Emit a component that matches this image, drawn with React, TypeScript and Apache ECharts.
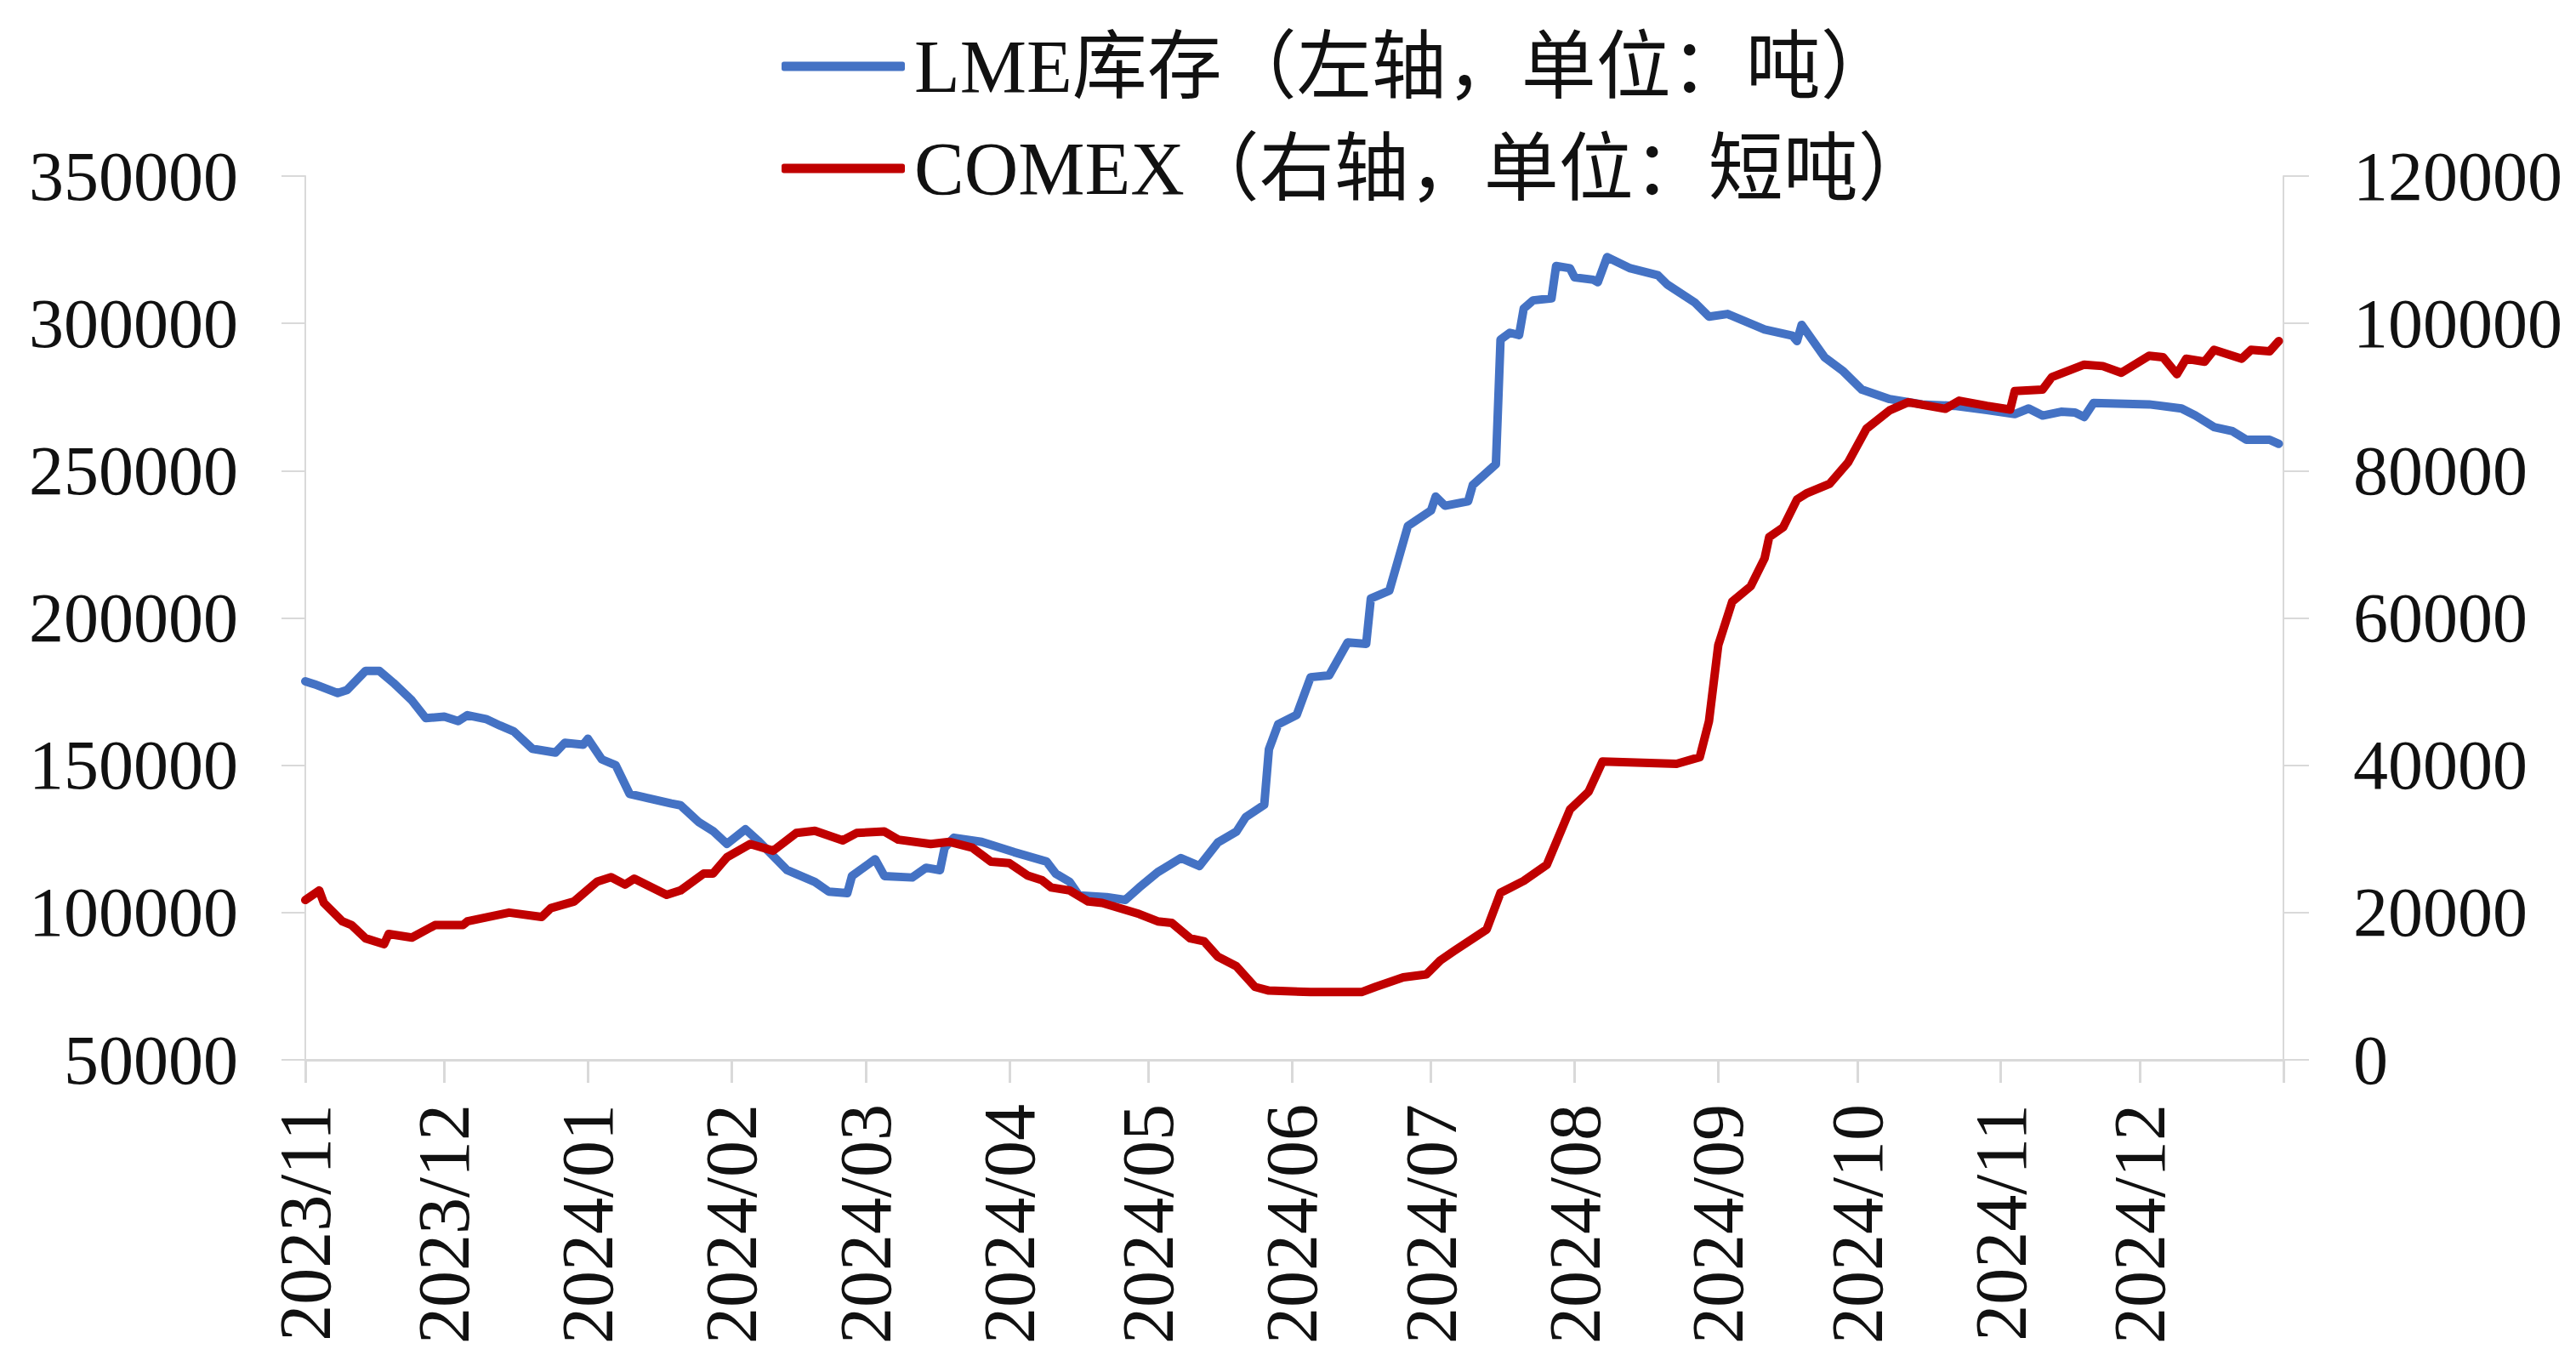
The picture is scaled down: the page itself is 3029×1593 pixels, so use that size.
import React, { useEffect, useRef } from "react";
import * as echarts from "echarts";

const legendNames = ["LME库存（左轴，单位：吨）", "COMEX（右轴，单位：短吨）"];

const monthTickLabels = [
  "2023/11", "2023/12", "2024/01", "2024/02", "2024/03", "2024/04", "2024/05",
  "2024/06", "2024/07", "2024/08", "2024/09", "2024/10", "2024/11", "2024/12",
];

const leftAxisRange = [50000, 350000, 50000];
const rightAxisRange = [0, 120000, 20000];

const lmeDates = [
  "2023-11-01", "2023-11-03", "2023-11-08", "2023-11-10", "2023-11-14", "2023-11-17", "2023-11-20",
  "2023-11-24", "2023-11-27", "2023-12-01", "2023-12-04", "2023-12-06", "2023-12-10", "2023-12-13",
  "2023-12-16", "2023-12-20", "2023-12-25", "2023-12-27", "2023-12-31", "2024-01-01", "2024-01-04",
  "2024-01-07", "2024-01-10", "2024-01-13", "2024-01-19", "2024-01-21", "2024-01-25", "2024-01-28",
  "2024-01-31", "2024-02-04", "2024-02-07", "2024-02-13", "2024-02-19", "2024-02-22", "2024-02-26",
  "2024-02-27", "2024-03-03", "2024-03-05", "2024-03-11", "2024-03-14", "2024-03-17", "2024-03-18",
  "2024-03-20", "2024-03-26", "2024-04-02", "2024-04-09", "2024-04-11", "2024-04-14", "2024-04-16",
  "2024-04-22", "2024-04-26", "2024-04-29", "2024-05-03", "2024-05-08", "2024-05-12", "2024-05-16",
  "2024-05-20", "2024-05-22", "2024-05-26", "2024-05-27", "2024-05-29", "2024-06-02", "2024-06-05",
  "2024-06-09", "2024-06-13", "2024-06-17", "2024-06-18", "2024-06-22", "2024-06-26", "2024-07-01",
  "2024-07-02", "2024-07-04", "2024-07-09", "2024-07-10", "2024-07-15", "2024-07-16", "2024-07-18",
  "2024-07-20", "2024-07-21", "2024-07-23", "2024-07-27", "2024-07-28", "2024-07-31", "2024-08-01",
  "2024-08-05", "2024-08-06", "2024-08-08", "2024-08-13", "2024-08-19", "2024-08-21", "2024-08-27",
  "2024-08-30", "2024-09-03", "2024-09-11", "2024-09-17", "2024-09-18", "2024-09-19", "2024-09-24",
  "2024-09-28", "2024-10-02", "2024-10-08", "2024-10-15", "2024-10-22", "2024-10-29", "2024-11-04",
  "2024-11-07", "2024-11-10", "2024-11-14", "2024-11-17", "2024-11-19", "2024-11-21", "2024-12-03",
  "2024-12-10", "2024-12-13", "2024-12-17", "2024-12-21", "2024-12-24", "2024-12-29", "2024-12-31",
];
const lmeValues = [
  178500, 177500, 174500, 175500, 182000, 182000, 178000,
  172000, 166000, 166500, 165000, 167000, 165700, 163500,
  161500, 155600, 154300, 157600, 157000, 159000, 152000,
  150000, 140300, 139200, 137000, 136400, 130600, 127700,
  123300, 128300, 124000, 114400, 110400, 107100, 106600,
  112400, 118100, 112400, 111900, 115200, 114400, 122000,
  125400, 124000, 120500, 117300, 113200, 110400, 105800,
  105200, 104300, 108500, 113700, 118500, 115800, 123800,
  127500, 132400, 136600, 155400, 163900, 167100, 179900,
  180500, 191700, 191200, 206600, 209300, 231200, 236500,
  241200, 238100, 239600, 245100, 252200, 294500, 296800,
  296000, 305000, 307800, 308500, 319500, 318700, 315600,
  314800, 314000, 322500, 318700, 316300, 313200, 307000,
  302300, 303200, 297900, 295800, 294000, 299500, 288400,
  283700, 277500, 274300, 272500, 272000, 270600, 269200,
  271100, 268700, 270000, 269700, 268200, 273000, 272500,
  271100, 268700, 264800, 263400, 260500, 260500, 259100,
];

const comexDates = [
  "2023-11-01", "2023-11-04", "2023-11-05", "2023-11-09", "2023-11-11", "2023-11-14", "2023-11-18",
  "2023-11-19", "2023-11-24", "2023-11-29", "2023-12-05", "2023-12-06", "2023-12-15", "2023-12-22",
  "2023-12-24", "2023-12-29", "2024-01-03", "2024-01-06", "2024-01-09", "2024-01-11", "2024-01-18",
  "2024-01-21", "2024-01-26", "2024-01-28", "2024-01-31", "2024-02-05", "2024-02-10", "2024-02-15",
  "2024-02-19", "2024-02-25", "2024-02-28", "2024-03-05", "2024-03-08", "2024-03-15", "2024-03-19",
  "2024-03-24", "2024-03-28", "2024-04-01", "2024-04-05", "2024-04-08", "2024-04-10", "2024-04-14",
  "2024-04-18", "2024-04-21", "2024-04-29", "2024-05-03", "2024-05-06", "2024-05-10", "2024-05-13",
  "2024-05-16", "2024-05-20", "2024-05-24", "2024-05-27", "2024-06-05", "2024-06-16", "2024-06-19",
  "2024-06-25", "2024-06-30", "2024-07-03", "2024-07-06", "2024-07-13", "2024-07-16", "2024-07-21",
  "2024-07-26", "2024-07-31", "2024-08-04", "2024-08-07", "2024-08-23", "2024-08-28", "2024-08-30",
  "2024-09-01", "2024-09-04", "2024-09-08", "2024-09-11", "2024-09-12", "2024-09-15", "2024-09-18",
  "2024-09-20", "2024-09-25", "2024-09-29", "2024-10-03", "2024-10-08", "2024-10-12", "2024-10-20",
  "2024-10-23", "2024-10-29", "2024-11-03", "2024-11-04", "2024-11-10", "2024-11-12", "2024-11-19",
  "2024-11-23", "2024-11-27", "2024-12-03", "2024-12-06", "2024-12-09", "2024-12-11", "2024-12-15",
  "2024-12-17", "2024-12-23", "2024-12-25", "2024-12-29", "2024-12-31",
];
const comexValues = [
  21700, 23000, 21300, 18800, 18300, 16500, 15700,
  17100, 16600, 18300, 18300, 18800, 20000, 19400,
  20600, 21500, 24200, 24800, 23800, 24600, 22400,
  23000, 25300, 25300, 27500, 29300, 28400, 30800,
  31100, 29800, 30800, 31000, 29900, 29300, 29600,
  28800, 26900, 26700, 25000, 24400, 23400, 23000,
  21500, 21300, 19800, 18800, 18600, 16500, 16100,
  14000, 12700, 9900, 9400, 9200, 9200, 9900,
  11200, 11600, 13500, 14800, 17700, 22700, 24300,
  26500, 34000, 36400, 40500, 40200, 41100, 46000,
  56300, 62200, 64300, 68100, 71000, 72300, 76100,
  76900, 78200, 81100, 85700, 88200, 89300, 88400,
  89500, 88800, 88300, 90800, 91000, 92700, 94400,
  94200, 93300, 95600, 95400, 93100, 95200, 94800,
  96400, 95200, 96400, 96200, 97600,
];

const toTime = (s: string) => {
  const [y, m, d] = s.split("-").map(Number);
  return new Date(y, m - 1, d).getTime();
};

const monthTicks: number[] = [];
for (let i = 0; i <= monthTickLabels.length; i++) {
  monthTicks.push(new Date(2023, 10 + i, 1).getTime());
}
const monthLabelValues = monthTicks.slice(0, monthTickLabels.length);

const serif = "'Liberation Serif', 'Noto Sans CJK SC', serif";
const axisGray = "#d9d9d9";
const plain = (v: number) => String(v);

export default function App() {
  const ref = useRef<HTMLDivElement>(null);

  useEffect(() => {
    if (!ref.current) return;
    const chart = echarts.init(ref.current, undefined, { renderer: "svg" });

    const lmeData = lmeDates.map((d, i) => [toTime(d), lmeValues[i]]);
    const comexData = comexDates.map((d, i) => [toTime(d), comexValues[i]]);

    chart.setOption({
      animation: false,
      backgroundColor: "#ffffff",
      legend: {
        orient: "vertical",
        left: 914,
        top: 29,
        itemWidth: 145,
        itemHeight: 11,
        itemGap: 32,
        icon: "roundRect",
        textStyle: {
          fontFamily: serif,
          fontSize: 88,
          lineHeight: 88,
          color: "#111111",
          padding: [0, 0, 0, 6],
        },
        data: legendNames,
      },
      grid: { left: 359, right: 344, top: 207, bottom: 347, containLabel: false },
      xAxis: {
        type: "value",
        min: monthTicks[0],
        max: monthTicks[monthTicks.length - 1],
        splitLine: { show: false },
        axisLine: { show: true, lineStyle: { color: axisGray, width: 3 } },
        axisTick: {
          show: true,
          length: 27,
          customValues: monthTicks,
          lineStyle: { color: axisGray, width: 3 },
        },
        axisLabel: {
          rotate: 90,
          margin: 52,
          customValues: monthLabelValues,
          fontFamily: serif,
          fontSize: 86,
          color: "#111111",
          formatter: (val: number) => {
            const d = new Date(val);
            const key = `${d.getFullYear()}/${String(d.getMonth() + 1).padStart(2, "0")}`;
            return monthTickLabels.indexOf(key) >= 0 ? key : "";
          },
        },
      },
      yAxis: [
        {
          type: "value",
          min: leftAxisRange[0],
          max: leftAxisRange[1],
          interval: leftAxisRange[2],
          splitLine: { show: false },
          axisLine: { show: true, lineStyle: { color: axisGray, width: 2 } },
          axisTick: { show: true, length: 28, lineStyle: { color: axisGray, width: 2 } },
          axisLabel: { margin: 79, fontFamily: serif, fontSize: 82, color: "#111111", formatter: plain },
        },
        {
          type: "value",
          position: "right",
          min: rightAxisRange[0],
          max: rightAxisRange[1],
          interval: rightAxisRange[2],
          splitLine: { show: false },
          axisLine: { show: true, lineStyle: { color: axisGray, width: 2 } },
          axisTick: { show: true, length: 30, lineStyle: { color: axisGray, width: 2 } },
          axisLabel: { margin: 82, fontFamily: serif, fontSize: 82, color: "#111111", formatter: plain },
        },
      ],
      series: [
        {
          name: legendNames[0],
          type: "line",
          yAxisIndex: 0,
          showSymbol: false,
          symbol: "none",
          color: "#4472C4",
          lineStyle: { width: 10, color: "#4472C4", join: "round", cap: "round" },
          data: lmeData,
        },
        {
          name: legendNames[1],
          type: "line",
          yAxisIndex: 1,
          showSymbol: false,
          symbol: "none",
          color: "#C00000",
          lineStyle: { width: 10, color: "#C00000", join: "round", cap: "round" },
          data: comexData,
        },
      ],
    });

    return () => chart.dispose();
  }, []);

  return (
    <div
      ref={ref}
      style={{ position: "fixed", left: 0, top: 0, width: 3029, height: 1593, background: "#fff" }}
    />
  );
}
